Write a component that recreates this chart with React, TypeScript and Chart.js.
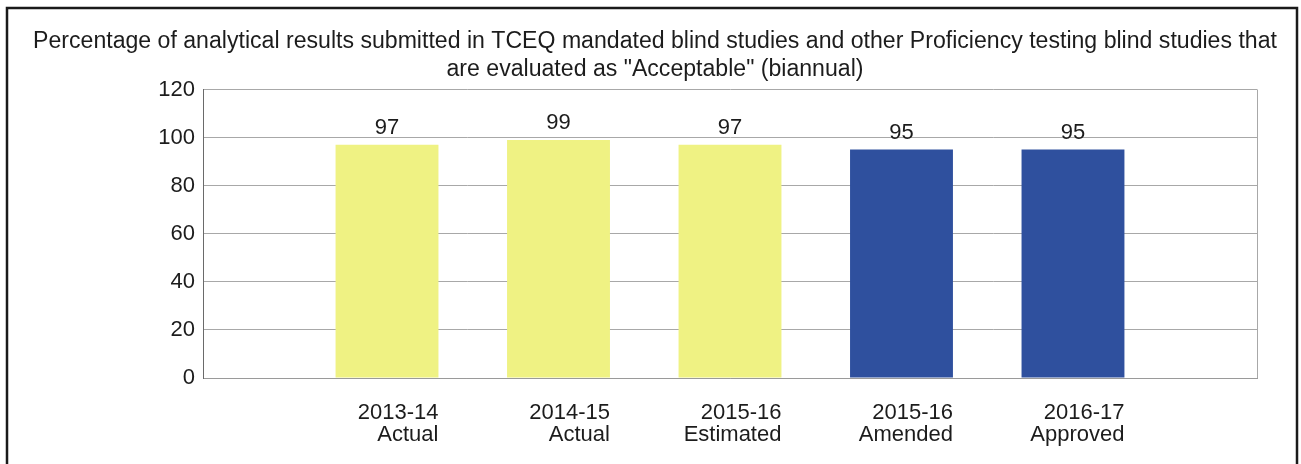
import { useEffect, useRef } from "react";
import { Chart, registerables } from "chart.js";

Chart.register(...registerables);

const titleLines = [
  "Percentage of analytical results submitted in TCEQ mandated blind studies and other Proficiency testing blind studies that",
  'are evaluated as "Acceptable" (biannual)',
];
const categories: string[][] = [
  ["2013-14", "Actual"],
  ["2014-15", "Actual"],
  ["2015-16", "Estimated"],
  ["2015-16", "Amended"],
  ["2016-17", "Approved"],
];
const values = [97, 99, 97, 95, 95];
const barColors = ["#eff283", "#eff283", "#eff283", "#2f509e", "#2f509e"];
const yMin = 0;
const yMax = 120;
const yStep = 20;

const FONT = "'Liberation Sans', Arial, sans-serif";
const TEXT = "#1c1c1c";

export default function App() {
  const ref = useRef<HTMLCanvasElement | null>(null);

  useEffect(() => {
    const canvas = ref.current;
    if (!canvas) return;

    const decor = {
      id: "decor",
      afterDraw(chart: any) {
        const { ctx, chartArea } = chart;
        ctx.save();
        // right border of plot area
        ctx.strokeStyle = "#a8a8a8";
        ctx.lineWidth = 1;
        ctx.beginPath();
        ctx.moveTo(Math.round(chartArea.right) + 0.5, chartArea.top);
        ctx.lineTo(Math.round(chartArea.right) + 0.5, chartArea.bottom);
        ctx.stroke();
        // outer frame
        ctx.strokeStyle = "#1a1a1a";
        ctx.lineWidth = 2.5;
        ctx.strokeRect(7, 8, 1290, 520);
        ctx.restore();
      },
      afterDatasetsDraw(chart: any) {
        const { ctx } = chart;
        const meta = chart.getDatasetMeta(0);
        ctx.save();
        ctx.font = `22px ${FONT}`;
        ctx.fillStyle = TEXT;
        ctx.textAlign = "center";
        ctx.textBaseline = "alphabetic";
        meta.data.forEach((el: any, i: number) => {
          ctx.fillText(String(values[i]), el.x, el.y - 11);
        });
        ctx.restore();
      },
    };

    const chart = new Chart(canvas, {
      type: "bar",
      data: {
        datasets: [
          {
            data: values.map((v, i) => ({ x: i, y: v })),
            backgroundColor: barColors,
            borderWidth: 0,
            categoryPercentage: 1,
            barPercentage: 0.6,
          },
        ],
      },
      options: {
        responsive: false,
        animation: false,
        devicePixelRatio: 1,
        layout: { padding: { left: 9, right: 0, top: 0, bottom: 0 } },
        plugins: {
          legend: { display: false },
          tooltip: { enabled: false },
          title: {
            display: true,
            text: titleLines,
            color: TEXT,
            font: { family: FONT, size: 23.1, weight: "normal", lineHeight: 1.2 },
            padding: { top: 28, bottom: 6 },
          },
        },
        scales: {
          x: {
            type: "linear",
            offset: false,
            min: -1.073,
            max: categories.length - 1 + 1.073,
            afterBuildTicks: (scale: any) => {
              scale.ticks = categories.map((_, i) => ({ value: i + 0.3 }));
            },
            afterFit: (scale: any) => {
              scale.height = 86;
            },
            grid: { display: false, drawTicks: false, offset: false },
            border: { display: true, color: "#9a9a9a", width: 1 },
            ticks: {
              autoSkip: false,
              maxRotation: 0,
              minRotation: 0,
              align: "end",
              padding: 24,
              color: TEXT,
              font: { family: FONT, size: 22, lineHeight: 1.0 },
              callback: (_v: any, i: number) => categories[i],
            },
          },
          y: {
            min: yMin,
            max: yMax,
            afterFit: (scale: any) => {
              scale.width = 194;
            },
            grid: { color: "#a8a8a8", lineWidth: 1, drawTicks: false },
            border: { display: true, color: "#6a6a6a", width: 1 },
            ticks: {
              stepSize: yStep,
              padding: 8,
              color: TEXT,
              font: { family: FONT, size: 22 },
            },
          },
          yRight: {
            position: "right",
            display: true,
            min: yMin,
            max: yMax,
            afterFit: (scale: any) => {
              scale.width = 44;
            },
            grid: { display: false, drawTicks: false },
            border: { display: false },
            ticks: { display: false },
          },
        },
      },
      plugins: [decor],
    } as any);

    return () => chart.destroy();
  }, []);

  return (
    <canvas
      ref={ref}
      width={1301}
      height={464}
      style={{ position: "absolute", left: 0, top: 0, width: 1301, height: 464, display: "block" }}
    />
  );
}
